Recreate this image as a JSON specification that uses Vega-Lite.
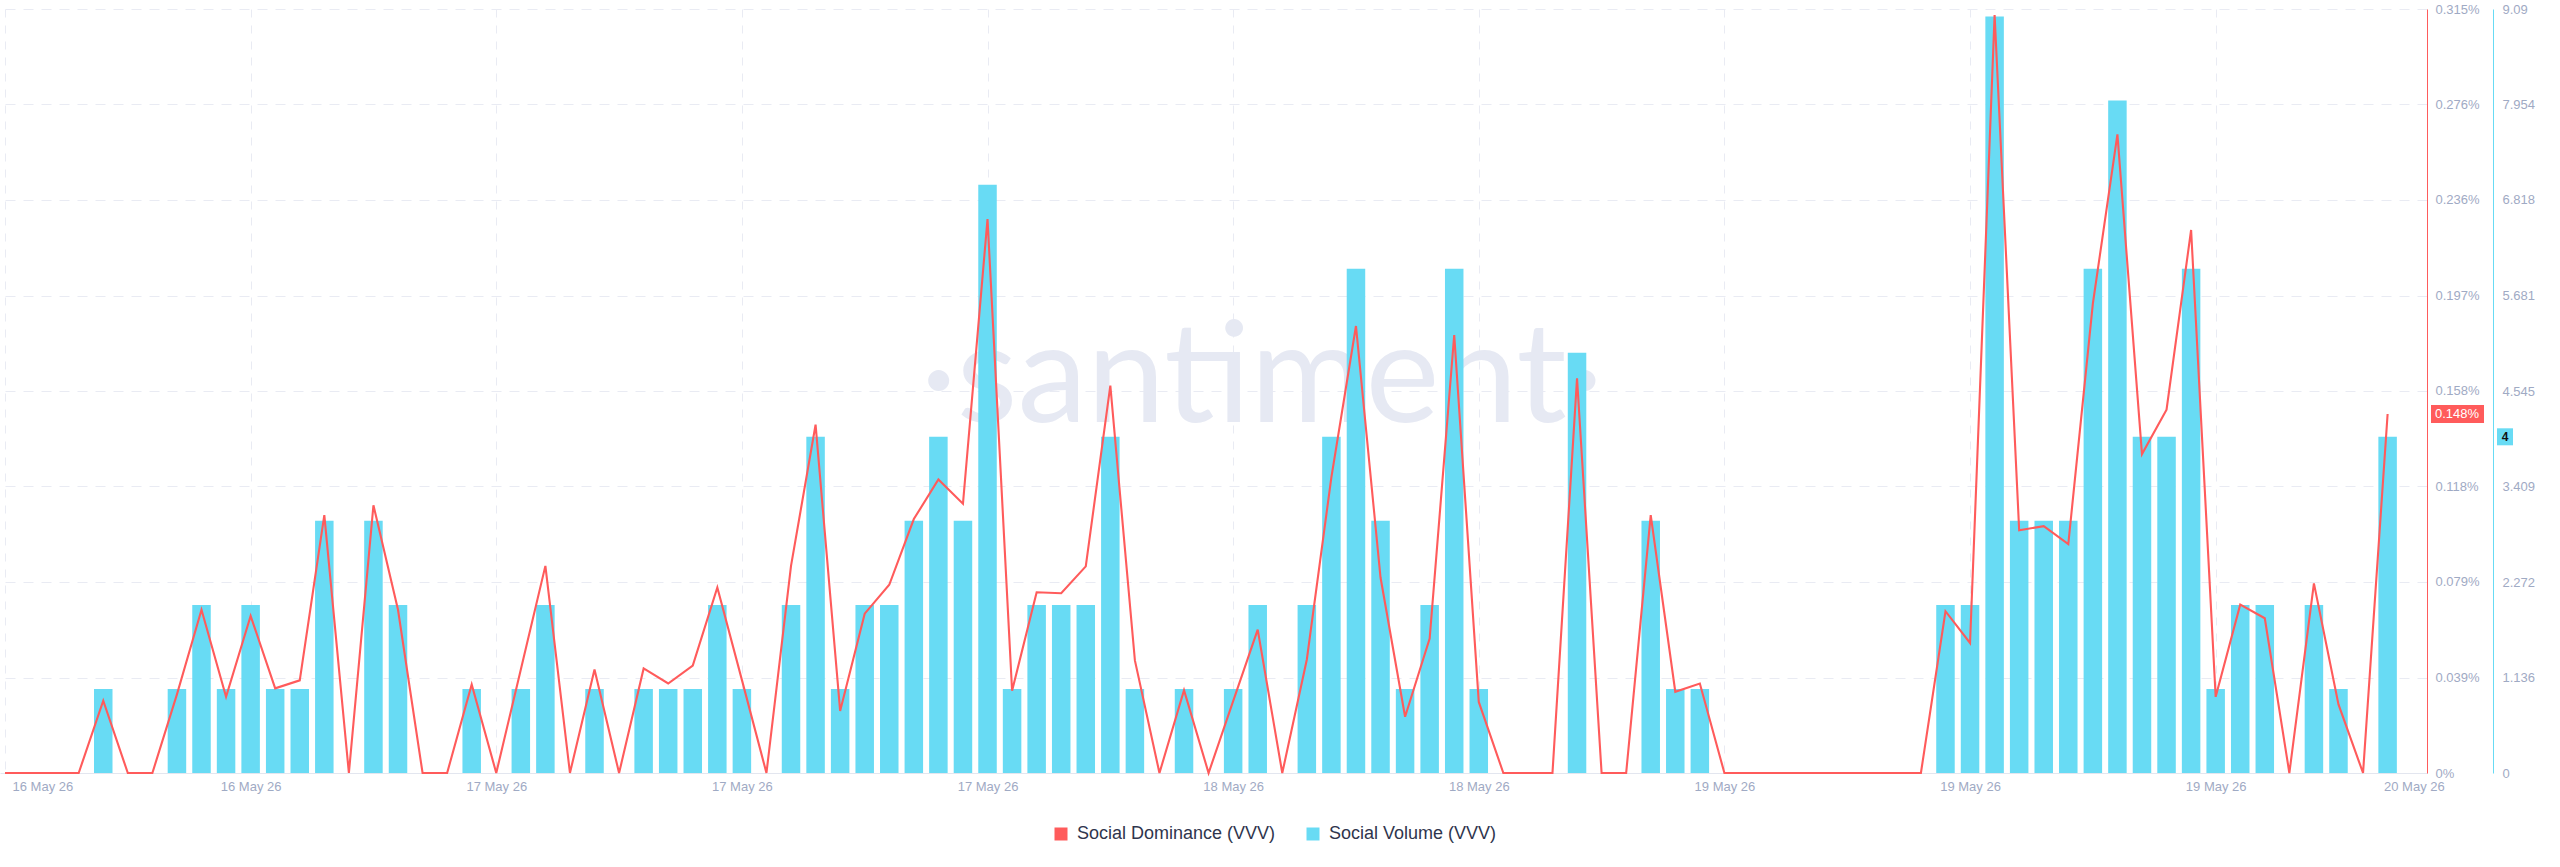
{
  "$schema": "https://vega.github.io/schema/vega-lite/v6.json",
  "width": 2427,
  "height": 764,
  "autosize": "none",
  "padding": {"left": 0, "top": 9, "right": 133, "bottom": 94},
  "background": "white",
  "config": {"view": {"stroke": null}, "font": "Liberation Sans"},
  "data": {"values": [
    {"t": "2026-05-16T05:00:00Z", "vol": 0, "dom": 0},
    {"t": "2026-05-16T06:00:00Z", "vol": 0, "dom": 0},
    {"t": "2026-05-16T07:00:00Z", "vol": 0, "dom": 0},
    {"t": "2026-05-16T08:00:00Z", "vol": 0, "dom": 0},
    {"t": "2026-05-16T09:00:00Z", "vol": 1, "dom": 0.0298},
    {"t": "2026-05-16T10:00:00Z", "vol": 0, "dom": 0},
    {"t": "2026-05-16T11:00:00Z", "vol": 0, "dom": 0},
    {"t": "2026-05-16T12:00:00Z", "vol": 1, "dom": 0.0324},
    {"t": "2026-05-16T13:00:00Z", "vol": 2, "dom": 0.0673},
    {"t": "2026-05-16T14:00:00Z", "vol": 1, "dom": 0.0314},
    {"t": "2026-05-16T15:00:00Z", "vol": 2, "dom": 0.0648},
    {"t": "2026-05-16T16:00:00Z", "vol": 1, "dom": 0.0349},
    {"t": "2026-05-16T17:00:00Z", "vol": 1, "dom": 0.0382},
    {"t": "2026-05-16T18:00:00Z", "vol": 3, "dom": 0.1063},
    {"t": "2026-05-16T19:00:00Z", "vol": 0, "dom": 0},
    {"t": "2026-05-16T20:00:00Z", "vol": 3, "dom": 0.1104},
    {"t": "2026-05-16T21:00:00Z", "vol": 2, "dom": 0.0673},
    {"t": "2026-05-16T22:00:00Z", "vol": 0, "dom": 0},
    {"t": "2026-05-16T23:00:00Z", "vol": 0, "dom": 0},
    {"t": "2026-05-17T00:00:00Z", "vol": 1, "dom": 0.0365},
    {"t": "2026-05-17T01:00:00Z", "vol": 0, "dom": 0},
    {"t": "2026-05-17T02:00:00Z", "vol": 1, "dom": 0.0427},
    {"t": "2026-05-17T03:00:00Z", "vol": 2, "dom": 0.0854},
    {"t": "2026-05-17T04:00:00Z", "vol": 0, "dom": 0},
    {"t": "2026-05-17T05:00:00Z", "vol": 1, "dom": 0.0427},
    {"t": "2026-05-17T06:00:00Z", "vol": 0, "dom": 0},
    {"t": "2026-05-17T07:00:00Z", "vol": 1, "dom": 0.0431},
    {"t": "2026-05-17T08:00:00Z", "vol": 1, "dom": 0.0369},
    {"t": "2026-05-17T09:00:00Z", "vol": 1, "dom": 0.0443},
    {"t": "2026-05-17T10:00:00Z", "vol": 2, "dom": 0.0765},
    {"t": "2026-05-17T11:00:00Z", "vol": 1, "dom": 0.0384},
    {"t": "2026-05-17T12:00:00Z", "vol": 0, "dom": 0},
    {"t": "2026-05-17T13:00:00Z", "vol": 2, "dom": 0.0854},
    {"t": "2026-05-17T14:00:00Z", "vol": 4, "dom": 0.1436},
    {"t": "2026-05-17T15:00:00Z", "vol": 1, "dom": 0.0256},
    {"t": "2026-05-17T16:00:00Z", "vol": 2, "dom": 0.0657},
    {"t": "2026-05-17T17:00:00Z", "vol": 2, "dom": 0.0776},
    {"t": "2026-05-17T18:00:00Z", "vol": 3, "dom": 0.1047},
    {"t": "2026-05-17T19:00:00Z", "vol": 4, "dom": 0.121},
    {"t": "2026-05-17T20:00:00Z", "vol": 3, "dom": 0.111},
    {"t": "2026-05-17T21:00:00Z", "vol": 7, "dom": 0.2284},
    {"t": "2026-05-17T22:00:00Z", "vol": 1, "dom": 0.0339},
    {"t": "2026-05-17T23:00:00Z", "vol": 2, "dom": 0.0745},
    {"t": "2026-05-18T00:00:00Z", "vol": 2, "dom": 0.0741},
    {"t": "2026-05-18T01:00:00Z", "vol": 2, "dom": 0.0852},
    {"t": "2026-05-18T02:00:00Z", "vol": 4, "dom": 0.1597},
    {"t": "2026-05-18T03:00:00Z", "vol": 1, "dom": 0.0464},
    {"t": "2026-05-18T04:00:00Z", "vol": 0, "dom": 0},
    {"t": "2026-05-18T05:00:00Z", "vol": 1, "dom": 0.0341},
    {"t": "2026-05-18T06:00:00Z", "vol": 0, "dom": 0},
    {"t": "2026-05-18T07:00:00Z", "vol": 1, "dom": 0.0296},
    {"t": "2026-05-18T08:00:00Z", "vol": 2, "dom": 0.0591},
    {"t": "2026-05-18T09:00:00Z", "vol": 0, "dom": 0},
    {"t": "2026-05-18T10:00:00Z", "vol": 2, "dom": 0.0468},
    {"t": "2026-05-18T11:00:00Z", "vol": 4, "dom": 0.122},
    {"t": "2026-05-18T12:00:00Z", "vol": 6, "dom": 0.1843},
    {"t": "2026-05-18T13:00:00Z", "vol": 3, "dom": 0.0806},
    {"t": "2026-05-18T14:00:00Z", "vol": 1, "dom": 0.0232},
    {"t": "2026-05-18T15:00:00Z", "vol": 2, "dom": 0.0554},
    {"t": "2026-05-18T16:00:00Z", "vol": 6, "dom": 0.1806},
    {"t": "2026-05-18T17:00:00Z", "vol": 1, "dom": 0.0293},
    {"t": "2026-05-18T18:00:00Z", "vol": 0, "dom": 0},
    {"t": "2026-05-18T19:00:00Z", "vol": 0, "dom": 0},
    {"t": "2026-05-18T20:00:00Z", "vol": 0, "dom": 0},
    {"t": "2026-05-18T21:00:00Z", "vol": 5, "dom": 0.1627},
    {"t": "2026-05-18T22:00:00Z", "vol": 0, "dom": 0},
    {"t": "2026-05-18T23:00:00Z", "vol": 0, "dom": 0},
    {"t": "2026-05-19T00:00:00Z", "vol": 3, "dom": 0.1063},
    {"t": "2026-05-19T01:00:00Z", "vol": 1, "dom": 0.0335},
    {"t": "2026-05-19T02:00:00Z", "vol": 1, "dom": 0.0369},
    {"t": "2026-05-19T03:00:00Z", "vol": 0, "dom": 0},
    {"t": "2026-05-19T04:00:00Z", "vol": 0, "dom": 0},
    {"t": "2026-05-19T05:00:00Z", "vol": 0, "dom": 0},
    {"t": "2026-05-19T06:00:00Z", "vol": 0, "dom": 0},
    {"t": "2026-05-19T07:00:00Z", "vol": 0, "dom": 0},
    {"t": "2026-05-19T08:00:00Z", "vol": 0, "dom": 0},
    {"t": "2026-05-19T09:00:00Z", "vol": 0, "dom": 0},
    {"t": "2026-05-19T10:00:00Z", "vol": 0, "dom": 0},
    {"t": "2026-05-19T11:00:00Z", "vol": 0, "dom": 0},
    {"t": "2026-05-19T12:00:00Z", "vol": 2, "dom": 0.0667},
    {"t": "2026-05-19T13:00:00Z", "vol": 2, "dom": 0.0536},
    {"t": "2026-05-19T14:00:00Z", "vol": 9, "dom": 0.3125},
    {"t": "2026-05-19T15:00:00Z", "vol": 3, "dom": 0.1001},
    {"t": "2026-05-19T16:00:00Z", "vol": 3, "dom": 0.1018},
    {"t": "2026-05-19T17:00:00Z", "vol": 3, "dom": 0.0944},
    {"t": "2026-05-19T18:00:00Z", "vol": 6, "dom": 0.1935},
    {"t": "2026-05-19T19:00:00Z", "vol": 8, "dom": 0.2633},
    {"t": "2026-05-19T20:00:00Z", "vol": 4, "dom": 0.1315},
    {"t": "2026-05-19T21:00:00Z", "vol": 4, "dom": 0.1498},
    {"t": "2026-05-19T22:00:00Z", "vol": 6, "dom": 0.2239},
    {"t": "2026-05-19T23:00:00Z", "vol": 1, "dom": 0.0314},
    {"t": "2026-05-20T00:00:00Z", "vol": 2, "dom": 0.0694},
    {"t": "2026-05-20T01:00:00Z", "vol": 2, "dom": 0.0638},
    {"t": "2026-05-20T02:00:00Z", "vol": 0, "dom": 0},
    {"t": "2026-05-20T03:00:00Z", "vol": 2, "dom": 0.0782},
    {"t": "2026-05-20T04:00:00Z", "vol": 1, "dom": 0.0283},
    {"t": "2026-05-20T05:00:00Z", "vol": 0, "dom": 0},
    {"t": "2026-05-20T06:00:00Z", "vol": 4, "dom": 0.148}
  ]},
  "layer": [
    {
      "layer": [
        {
          "data": {"values": [{"label": "·santiment·"}]},
          "mark": {"type": "text", "font": "Lato", "fontSize": 140, "color": "#e6e9f3", "align": "center", "baseline": "alphabetic"},
          "encoding": {
            "x": {"datum": 1779091800000, "type": "temporal"},
            "y": {"datum": 4.18, "type": "quantitative"},
            "text": {"field": "label"}
          }
        },
        {
          "mark": {"type": "bar", "width": 18.5},
          "encoding": {
            "x": {
              "field": "t", "type": "temporal",
              "scale": {"type": "utc", "domain": [1778907600000, 1779261840000]},
              "axis": {
                "title": null,
                "values": [1778907600000, 1778943600000, 1778979600000, 1779015600000, 1779051600000, 1779087600000, 1779123600000, 1779159600000, 1779195600000, 1779231600000, 1779260652000],
                "format": "%d %b %y",
                "labelFlush": false,
                "labelBound": false,
                "labelOverlap": false,
                "labelAlign": {"condition": {"test": "datum.value < 1778910000000", "value": "left"}, "value": "center"},
                "labelOffset": {"condition": {"test": "datum.value < 1778910000000", "value": 7}, "value": 0},
                "labelColor": "#9faac4",
                "labelFontSize": 13,
                "labelPadding": 7,
                "ticks": false,
                "domainColor": "#e3e6ef",
                "grid": true,
                "gridColor": "#e9ebf3",
                "gridDash": [8, 8],
                "gridOpacity": {"condition": {"test": "datum.value > 1779250000000", "value": 0}, "value": 1}
              }
            },
            "y": {
              "field": "vol", "type": "quantitative",
              "scale": {"domain": [0, 9.09], "nice": false},
              "axis": {
                "title": null,
                "orient": "right",
                "offset": 66,
                "values": [0, 1.136, 2.272, 3.409, 4.545, 5.681, 6.818, 7.954, 9.09],
                "format": ".3~f",
                "labelColor": "#9faac4",
                "labelFontSize": 13,
                "labelPadding": 9,
                "ticks": false,
                "domainColor": "#68dbf4",
                "grid": true,
                "gridColor": "#e9ebf3",
                "gridDash": [10, 8]
              }
            },
            "color": {
              "datum": "Social Volume (VVV)", "type": "nominal",
              "scale": {"domain": ["Social Dominance (VVV)", "Social Volume (VVV)"], "range": ["#ff5b5b", "#68dbf4"]},
              "legend": {
                "title": null,
                "orient": "none",
                "legendX": 1052,
                "legendY": 816,
                "direction": "horizontal",
                "symbolType": "square",
                "symbolSize": 169,
                "symbolStrokeWidth": 0,
                "labelFontSize": 18,
                "labelLimit": 500,
                "labelColor": "#2f354d",
                "labelOffset": 7,
                "columnPadding": 28,
                "encode": {"symbols": {"update": {"fill": {"scale": "color", "field": "value"}, "fillOpacity": {"value": 1}, "strokeWidth": {"value": 0}}}}
              }
            }
          }
        },
        {
          "data": {"values": [{"v": 4, "label": "4"}]},
          "mark": {"type": "rect", "color": "#68dbf4", "xOffset": 70, "x2Offset": 86, "yOffset": -8.5, "y2Offset": 8.5},
          "encoding": {
            "x": {"value": "width"},
            "x2": {"value": "width"},
            "y": {"field": "v", "type": "quantitative"},
            "y2": {"field": "v"}
          }
        },
        {
          "data": {"values": [{"v": 4, "label": "4"}]},
          "mark": {"type": "text", "color": "#111111", "fontSize": 12, "fontWeight": "bold", "align": "center", "baseline": "middle", "dx": 78},
          "encoding": {
            "x": {"value": "width"},
            "y": {"field": "v", "type": "quantitative"},
            "text": {"field": "label"}
          }
        }
      ]
    },
    {
      "layer": [
        {
          "mark": {"type": "line", "strokeWidth": 2.1, "interpolate": "linear"},
          "encoding": {
            "x": {"field": "t", "type": "temporal"},
            "y": {
              "field": "dom", "type": "quantitative",
              "scale": {"domain": [0, 0.315], "nice": false},
              "axis": {
                "title": null,
                "orient": "right",
                "offset": 0,
                "values": [0, 0.0393751, 0.0787501, 0.1181251, 0.1575001, 0.1968751, 0.2362501, 0.2756251, 0.315],
                "labelExpr": "format(datum.value, '.3~f') + '%'",
                "labelColor": "#9faac4",
                "labelFontSize": 13,
                "labelPadding": 8,
                "ticks": false,
                "domainColor": "#ff5b5b",
                "grid": false
              }
            },
            "color": {"datum": "Social Dominance (VVV)", "type": "nominal"}
          }
        },
        {
          "data": {"values": [{"d": 0.148, "label": "0.148%"}]},
          "mark": {"type": "rect", "color": "#ff5b5b", "xOffset": 4, "x2Offset": 57, "yOffset": -9, "y2Offset": 9},
          "encoding": {
            "x": {"value": "width"},
            "x2": {"value": "width"},
            "y": {"field": "d", "type": "quantitative"},
            "y2": {"field": "d"}
          }
        },
        {
          "data": {"values": [{"d": 0.148, "label": "0.148%"}]},
          "mark": {"type": "text", "color": "white", "fontSize": 13, "align": "left", "baseline": "middle", "dx": 8},
          "encoding": {
            "x": {"value": "width"},
            "y": {"field": "d", "type": "quantitative"},
            "text": {"field": "label"}
          }
        }
      ]
    }
  ],
  "resolve": {"scale": {"y": "independent"}}
}
